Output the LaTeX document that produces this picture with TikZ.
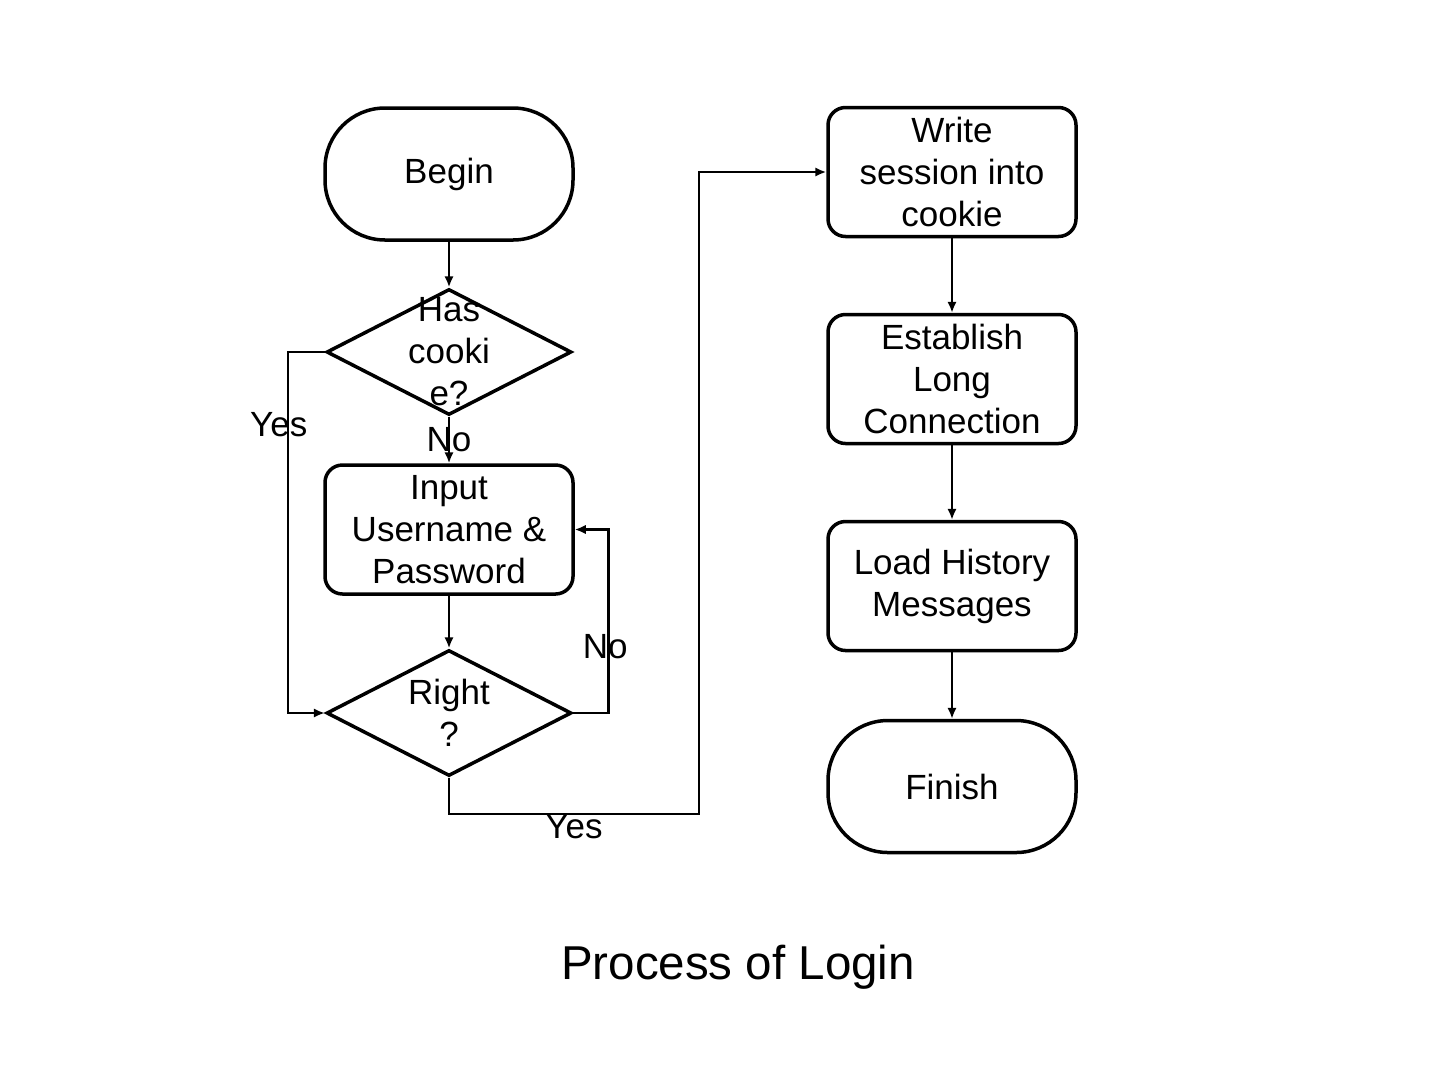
\documentclass[tikz,border=0pt]{standalone}
\usepackage{fontspec}
\setmainfont{Liberation Sans}
\usepackage{tikz}
\usetikzlibrary{shapes.geometric,positioning,arrows.meta}

\begin{document}
\begin{tikzpicture}[x=0.4pt,y=-0.4pt,font=\fontsize{14pt}{16.8pt}\selectfont,
 b/.style={draw,line width=1.4pt,rounded corners=7pt,align=center,inner sep=0pt,minimum width=99.2pt,minimum height=51.6pt},
 term/.style={b,rounded corners=24pt,minimum height=52.8pt},
 dec/.style={draw,diamond,line width=1.4pt,inner sep=0pt,minimum width=98pt,minimum height=50.4pt},
 lbl/.style={align=center,inner sep=0pt},
 ar/.style={-{Latex[length=4.4pt,width=3.8pt]},line width=1pt}]
\useasboundingbox (0,0) rectangle (1440,1080);
% left column
\node[term] (begin) at (449,174) {Begin};
\node[dec,below=18.2pt of begin,label={[lbl]center:{Has\\cooki\\e?}}] (cookie) {};
\node[b,below=18.6pt of cookie] (input) {Input\\Username \&\\Password};
\node[dec,below=21pt of input,label={[lbl]center:{Right\\?}}] (right) {};
% right column
\node[b] (write) at (952,172) {Write\\session into\\cookie};
\node[b,below=29.8pt of write] (conn) {Establish\\Long\\Connection};
\node[b,below=29.8pt of conn] (hist) {Load History\\Messages};
\node[term,below=26.6pt of hist] (finish) {Finish};
\node[font=\fontsize{19pt}{22pt}\selectfont] (title) at (738,967) {Process of Login};
% connectors
\draw[ar] (begin)--(cookie); \draw[ar] (input)--(right);
\draw[ar] (cookie) -- node[lbl,midway] {No} (input);
\draw[ar] (cookie.west) -- ++(-37,0) |- node[lbl,pos=0.1,xshift=-3.6pt] {Yes} (right.west);
\draw[ar] (right.east) -- ++(35,0) |- node[lbl,pos=0.18,xshift=-1.2pt] {No} (input.east);
\draw[ar] (right.south) -- ++(0,36) -- node[lbl,midway,yshift=-5.2pt] {Yes} ++(250,0) |- (write.west);
\draw[ar] (write)--(conn); \draw[ar] (conn)--(hist); \draw[ar] (hist)--(finish);
\end{tikzpicture}
\end{document}
